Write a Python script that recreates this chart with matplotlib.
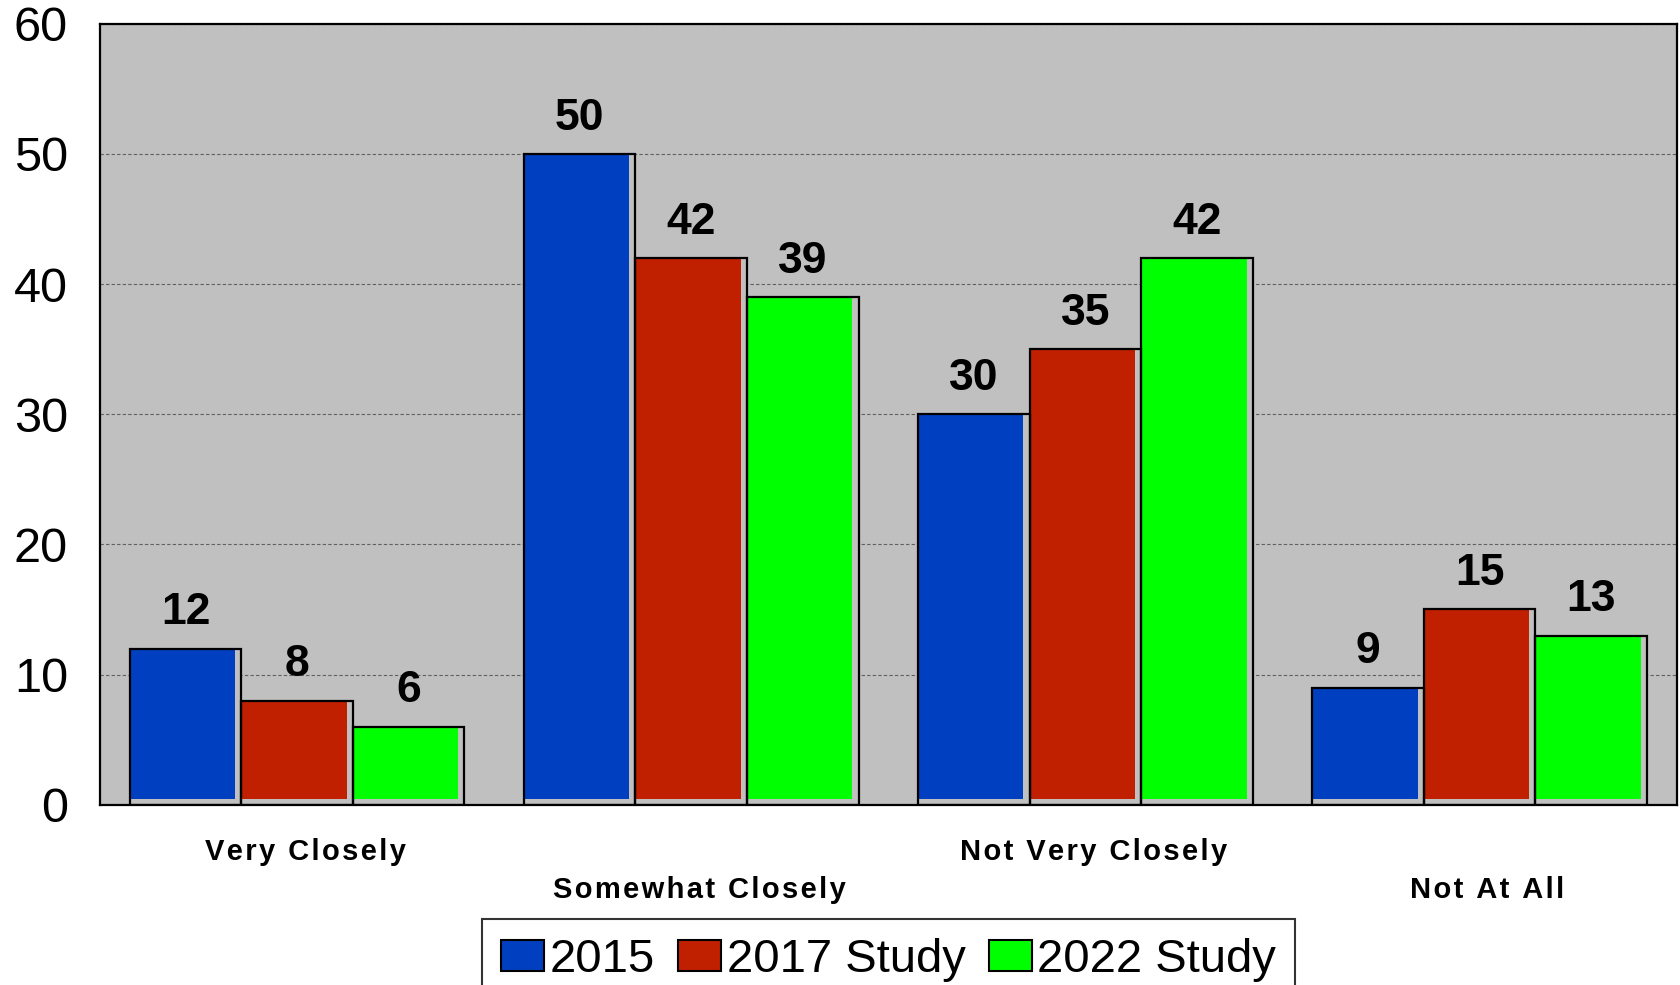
import matplotlib.pyplot as plt
import matplotlib.transforms as mtransforms
import numpy as np
from matplotlib.patches import Patch

# data
categories = ['Very Closely', 'Somewhat Closely', 'Not Very Closely', 'Not At All']
series_names = ['2015', '2017 Study', '2022 Study']
vals_2015 = [12, 50, 30, 9]
vals_2017 = [8, 42, 35, 15]
vals_2022 = [6, 39, 42, 13]
colors = ['#0040c0', '#c02000', '#00ff00']

plt.rcParams['font.family'] = ['Liberation Sans', 'DejaVu Sans']

fig = plt.figure(figsize=(16.8, 9.85), dpi=100)
ax = fig.add_axes([0.0595, 0.183, 0.9385, 0.793])
ax.set_facecolor('#c0c0c0')

x = np.arange(len(categories))
w = 0.283
series = [vals_2015, vals_2017, vals_2022]

for i, vals in enumerate(series):
    pos = x + (i - 1) * w
    vals = np.array(vals)
    # grey backing + inset colour fill (gives the little grey strip right/bottom)
    ax.bar(pos, vals, w, color='#c0c0c0', edgecolor='none', zorder=2)
    ax.bar(pos - w / 2, vals - 0.45, w * 0.945, bottom=0.45, align='edge',
           color=colors[i], edgecolor='none', zorder=3)
    ax.bar(pos, vals, w, color='none', edgecolor='black', linewidth=1.6, zorder=4)
    for p, v in zip(pos, vals):
        ax.annotate(str(v), (p, v), xytext=(0, 11), textcoords='offset points',
                    ha='center', va='bottom', fontsize=32, fontweight='bold')

ax.set_xlim(-0.5, 3.5)
ax.set_ylim(0, 60)
ax.set_yticks(range(0, 61, 10))
ax.tick_params(axis='y', length=0, labelsize=35, pad=23)
ax.yaxis.grid(True, linestyle=(0, (3, 2)), color='#606060', linewidth=0.8, zorder=1)
ax.set_axisbelow(True)

# category labels are letter-spaced in the original
spaced = ['\u200a'.join(c) for c in categories]
ax.set_xticks(x)
ax.set_xticklabels(spaced, fontsize=21, fontweight='bold')
ax.tick_params(axis='x', length=0)
for i, t in enumerate(ax.xaxis.get_major_ticks()):
    t.set_pad(24 if i % 2 == 0 else 51)
shift = mtransforms.ScaledTranslation(0.08, 0, fig.dpi_scale_trans)
for lab in ax.get_xticklabels():
    lab.set_transform(lab.get_transform() + shift)

for s in ax.spines.values():
    s.set_linewidth(1.6)
    s.set_color('black')

handles = [Patch(facecolor=c, edgecolor='black', linewidth=1.5) for c in colors]
leg = fig.legend(handles, series_names, loc='upper center', bbox_to_anchor=(0.529, 0.067),
                 ncol=3, fontsize=34, frameon=True, fancybox=False, edgecolor='black',
                 handlelength=0.9, handleheight=0.62, handletextpad=0.12, columnspacing=0.5,
                 borderpad=0.4, borderaxespad=0)
leg.get_frame().set_linewidth(1.5)

plt.savefig('out.png', dpi=100)
